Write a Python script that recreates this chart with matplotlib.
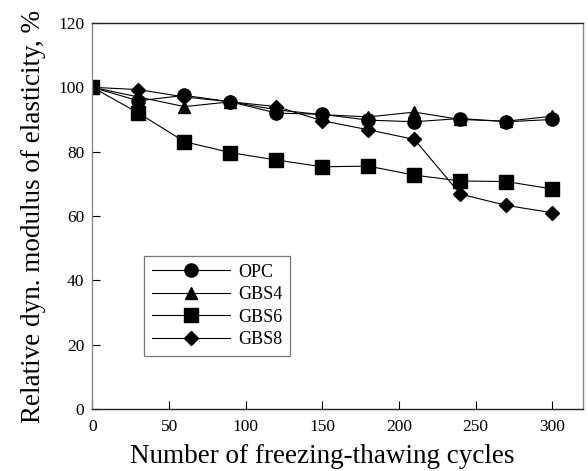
import matplotlib
matplotlib.use("Agg")
import matplotlib.pyplot as plt

plt.rcParams["font.family"] = ["Liberation Serif", "DejaVu Serif"]

cycles = [0, 30, 60, 90, 120, 150, 180, 210, 240, 270, 300]
opc = [100, 95.8, 97.5, 95.5, 92.0, 91.6, 89.8, 89.3, 90.3, 89.3, 90.0]
gbs4 = [100, 97.0, 94.0, 95.5, 93.0, 91.5, 90.8, 92.3, 90.0, 89.5, 91.0]
gbs6 = [100, 92.0, 83.1, 79.7, 77.4, 75.3, 75.5, 72.7, 70.9, 70.7, 68.4]
gbs8 = [100, 99.3, 97.0, 95.5, 94.0, 89.6, 86.8, 83.8, 66.8, 63.3, 61.0]

series = [
    ("OPC", opc, "o", 9.5),
    ("GBS4", gbs4, "^", 8.5),
    ("GBS6", gbs6, "s", 9.5),
    ("GBS8", gbs8, "D", 7.0),
]

fig = plt.figure(figsize=(5.88, 4.71), dpi=100)
ax = fig.add_axes([0.1573, 0.1316, 0.8342, 0.8196])

for name, vals, mk, ms in series:
    ax.plot(cycles, vals, color="black", lw=0.8, marker=mk, ms=ms,
            markerfacecolor="black", markeredgecolor="black", label=name)

ax.set_xlim(0, 320)
ax.set_ylim(0, 120)
ax.set_xticks(range(0, 301, 50))
ax.set_yticks(range(0, 121, 20))
ax.tick_params(direction="in", length=6, width=0.8, labelsize=12.5,
               top=False, right=False, colors="black")
ax.tick_params(axis="x", pad=7)
ax.tick_params(axis="y", pad=6)

ax.spines["left"].set_color("#888888")
ax.spines["right"].set_color("#888888")
ax.spines["top"].set_color("#222222")
ax.spines["bottom"].set_color("#222222")
for s in ax.spines.values():
    s.set_linewidth(1.0)

# label centred on the 0-300 data span, like the original
ax.set_xlabel("Number of freezing-thawing cycles", fontsize=19.5)
ax.xaxis.set_label_coords(150 / 320, -0.09)
ax.set_ylabel("Relative dyn. modulus of elasticity, %", fontsize=19.5, labelpad=9)

leg = ax.legend(loc="lower left", bbox_to_anchor=(0.105, 0.137), fontsize=13,
                handlelength=4.3, frameon=True, fancybox=False,
                borderpad=0.45, labelspacing=0.3, handletextpad=0.45,
                borderaxespad=0, edgecolor="#555555")
leg.get_frame().set_linewidth(0.9)

fig.savefig("out.png", dpi=100)
